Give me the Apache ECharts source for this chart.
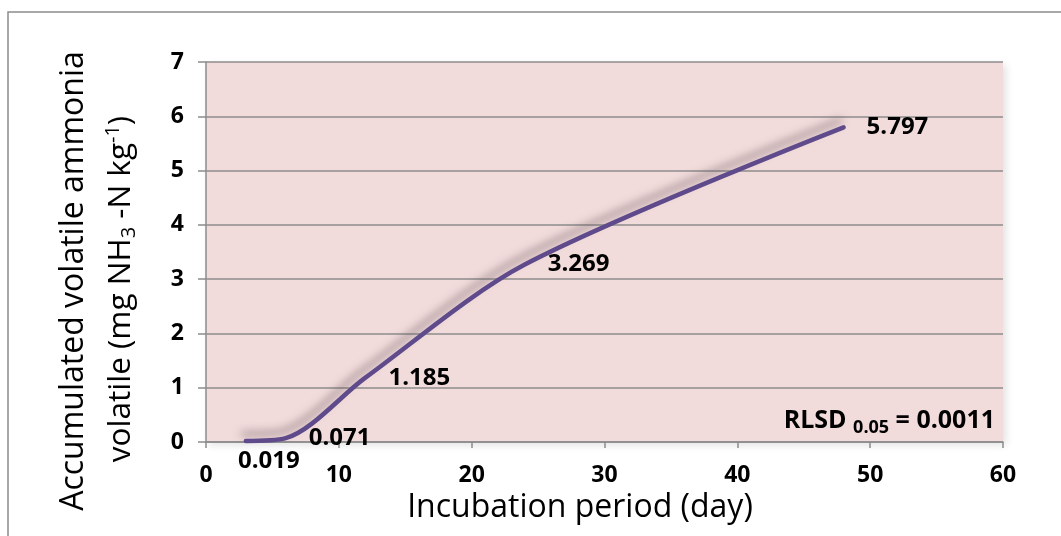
<!DOCTYPE html>
<html>
<head>
<meta charset="utf-8">
<script src="https://cdn.jsdelivr.net/npm/echarts@6/dist/echarts.min.js"></script>
<style>
html,body{margin:0;padding:0;background:#fff;}
#chart{width:1061px;height:536px;}
</style>
</head>
<body>
<div id="chart"></div>
<script>
// Data
const days = [3, 6, 12, 24, 48];
const ammonia = [0.019, 0.071, 1.185, 3.269, 5.797];
const xTicks = [0, 10, 20, 30, 40, 50, 60];
const yTicks = [0, 1, 2, 3, 4, 5, 6, 7];

const chart = echarts.init(document.getElementById('chart'));
const FONT = 'Open Sans';

const seriesData = days.map((d, i) => {
  const item = { value: [d, ammonia[i]] };
  if (i === 0) {
    item.label = { position: [23, 8], align: 'center', verticalAlign: 'top' };
  }
  return item;
});

chart.setOption({
  animation: false,
  grid: { left: 206, top: 62, right: 58, bottom: 94, show: true, backgroundColor: '#f2dcdb', borderWidth: 0,
          shadowColor: 'rgba(0,0,0,0.12)', shadowBlur: 8, shadowOffsetX: 3, shadowOffsetY: 3 },
  xAxis: {
    type: 'value', min: 0, max: 60, interval: 10,
    axisLine: { show: true, onZero: false, lineStyle: { color: '#8c8c8c', width: 1.5 } },
    axisTick: { show: true, inside: false, length: 6, lineStyle: { color: '#8c8c8c', width: 1.5 } },
    axisLabel: { fontFamily: FONT, fontWeight: 'bold', fontSize: 23, color: '#000', margin: 22,
                 formatter: v => xTicks.includes(v) ? String(v) : '' },
    splitLine: { show: false }
  },
  yAxis: {
    type: 'value', min: 0, max: 7, interval: 1,
    axisLine: { show: true, lineStyle: { color: '#8c8c8c', width: 1.5 } },
    axisTick: { show: true, length: 8, lineStyle: { color: '#8c8c8c', width: 1.5 } },
    axisLabel: { fontFamily: FONT, fontWeight: 'bold', fontSize: 23, color: '#000', margin: 22,
                 formatter: v => yTicks.includes(v) ? String(v) : '' },
    splitLine: { show: true, lineStyle: { color: '#8c8c8c', width: 1.5 } }
  },
  series: [{
    type: 'line',
    data: seriesData,
    smooth: 0.3,
    symbol: 'circle',
    symbolSize: 0.01,
    showSymbol: true,
    itemStyle: { color: 'rgba(0,0,0,0)' },
    lineStyle: { color: '#5f4a8b', width: 4.5, shadowColor: 'rgba(90,70,80,0.55)', shadowBlur: 8,
                 shadowOffsetX: -3, shadowOffsetY: -7, cap: 'round' },
    label: {
      show: true, position: 'right', distance: 23,
      fontFamily: FONT, fontWeight: 'bold', fontSize: 24, color: '#000',
      formatter: p => ammonia[p.dataIndex].toFixed(3)
    },
    labelLayout: { hideOverlap: false }
  }],
  graphic: [
    { type: 'rect', shape: { x: 8, y: 12, width: 1100, height: 600 }, style: { fill: 'none', stroke: '#8c8c8c', lineWidth: 1.5 }, z: -10 },
    {
      type: 'text', x: 580, y: 508,
      style: { text: 'Incubation period (day)', font: '32px "Open Sans"', fill: '#000', align: 'center', verticalAlign: 'middle' }
    },
    {
      type: 'text', x: 74, y: 281, rotation: Math.PI / 2,
      style: { text: 'Accumulated volatile ammonia', font: '32px "Open Sans"', fill: '#000', align: 'center', verticalAlign: 'middle' }
    },
    {
      type: 'text', x: 121, y: 289, rotation: Math.PI / 2,
      style: {
        text: '{a|volatile (mg NH}{s|3}{a| -N kg}{p|-1}{a|)}',
        align: 'center', verticalAlign: 'middle',
        rich: {
          a: { fontSize: 31.5, fontFamily: FONT, fill: '#000' },
          s: { fontSize: 20, fontFamily: FONT, fill: '#000', verticalAlign: 'bottom', padding: [14, 0, 0, 0] },
          p: { fontSize: 20, fontFamily: FONT, fill: '#000', verticalAlign: 'top', padding: [0, 0, 16, 0] }
        }
      }
    },
    {
      type: 'text', x: 995, y: 421,
      style: {
        text: '{a|RLSD }{s|0.05}{a| = 0.0011}',
        align: 'right', verticalAlign: 'middle',
        rich: {
          a: { fontSize: 25, fontWeight: 'bold', fontFamily: FONT, fill: '#000' },
          s: { fontSize: 18, fontWeight: 'bold', fontFamily: FONT, fill: '#000', padding: [14, 0, 0, 0] }
        }
      }
    }
  ]
});
</script>
</body>
</html>
